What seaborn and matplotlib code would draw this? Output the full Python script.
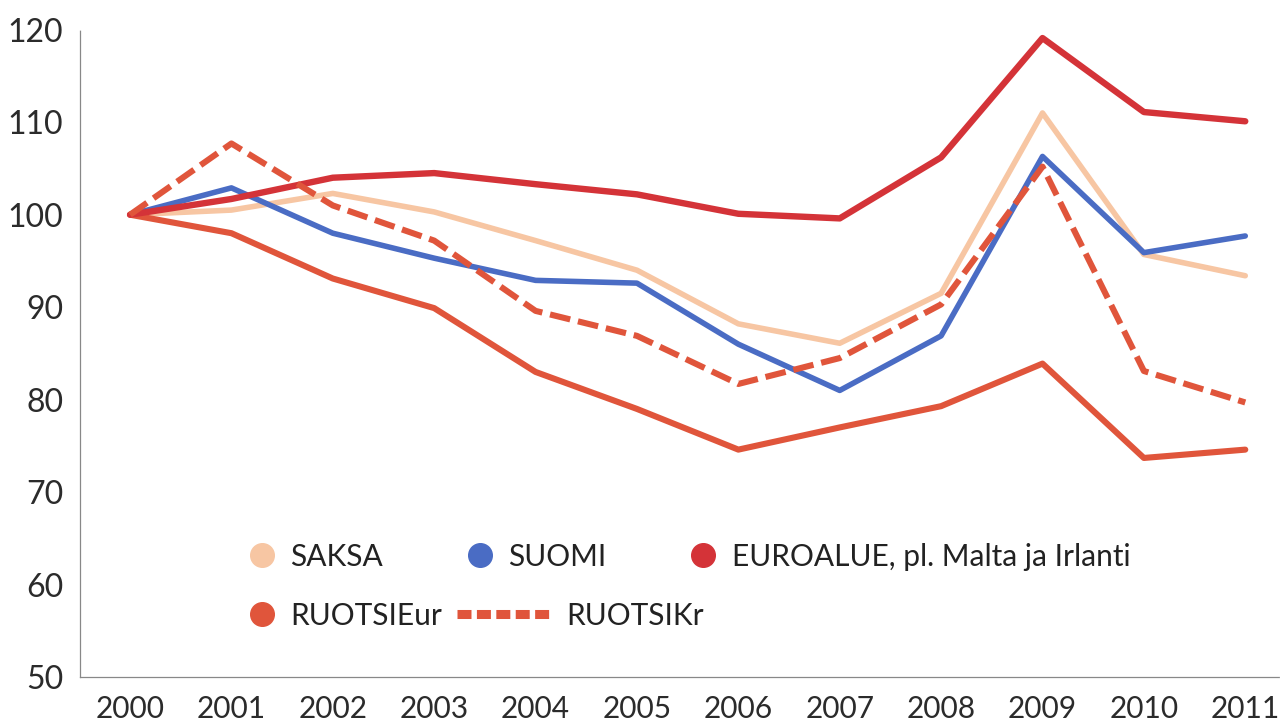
import numpy as np
import pandas as pd
import matplotlib.pyplot as plt
import seaborn as sns
from matplotlib.lines import Line2D

sns.set_style("white")
plt.rcParams['font.family'] = ['Lato', 'DejaVu Sans']

# Dati (indice, 2000 = 100)
vuodet = list(range(2000, 2012))
saksa = [100, 100.5, 102.3, 100.3, 97.2, 94.0, 88.2, 86.1, 91.5, 111.0, 95.7, 93.4]
suomi = [100, 102.9, 98.0, 95.3, 92.9, 92.6, 86.0, 81.0, 86.9, 106.3, 95.9, 97.7]
euroalue = [100, 101.7, 104.0, 104.5, 103.3, 102.2, 100.1, 99.6, 106.2, 119.1, 111.1, 110.1]
ruotsi_eur = [100, 98.0, 93.1, 89.9, 83.0, 79.0, 74.6, 77.0, 79.3, 83.9, 73.7, 74.6]
ruotsi_kr = [100, 107.7, 101.0, 97.2, 89.6, 86.9, 81.7, 84.5, 90.3, 105.2, 83.1, 79.7]

nimet = ['SAKSA', 'SUOMI', 'RUOTSIEur', 'EUROALUE, pl. Malta ja Irlanti', 'RUOTSIKr']
sarjat = [saksa, suomi, ruotsi_eur, euroalue, ruotsi_kr]
varit = {
    'SAKSA': '#f7c6a3',
    'SUOMI': '#4a6cc4',
    'EUROALUE, pl. Malta ja Irlanti': '#d43338',
    'RUOTSIEur': '#e0553b',
    'RUOTSIKr': '#e0553b',
}
leveydet = {
    'SAKSA': 4.0,
    'SUOMI': 4.0,
    'EUROALUE, pl. Malta ja Irlanti': 4.6,
    'RUOTSIEur': 4.4,
    'RUOTSIKr': 4.4,
}

rivit = []
for nimi, arvot in zip(nimet, sarjat):
    for v, a in zip(vuodet, arvot):
        rivit.append({'vuosi': v, 'arvo': a, 'sarja': nimi})
df = pd.DataFrame(rivit)

fig = plt.figure(figsize=(12.85, 7.25), dpi=100)
ax = fig.add_axes([0.0623, 0.066, 0.934, 0.893])

for nimi in nimet:
    osa = df[df['sarja'] == nimi]
    sns.lineplot(data=osa, x='vuosi', y='arvo', ax=ax, color=varit[nimi],
                 linewidth=leveydet[nimi], legend=False,
                 linestyle=(0, (3.4, 1.3)) if nimi == 'RUOTSIKr' else '-')

ax.set_xlim(1999.507, 2011.345)
ax.set_ylim(50, 120)
ax.set_xlabel('')
ax.set_ylabel('')

ax.set_yticks(range(50, 121, 10))
ax.set_xticks(vuodet)
ax.set_xticklabels([str(v) for v in vuodet])
ax.set_xticks(np.arange(2000.5, 2011, 1.0), minor=True)
ax.tick_params(axis='x', which='major', length=0, pad=13, labelsize=21.5, labelcolor='#2b2b2b')
ax.tick_params(axis='x', which='minor', length=5, width=0.8, color='#777777', direction='out')
ax.tick_params(axis='y', which='major', length=7, width=0.8, color='#777777', direction='out',
               pad=5, labelsize=23, labelcolor='#2b2b2b')

for puoli in ['top', 'right']:
    ax.spines[puoli].set_visible(False)
for puoli in ['left', 'bottom']:
    ax.spines[puoli].set_linestyle((0, (1, 1)))
    ax.spines[puoli].set_color('#888888')
    ax.spines[puoli].set_linewidth(0.9)

# Selite kahdessa rivissä
def pallo(nimi):
    return Line2D([], [], marker='o', linestyle='none', markersize=17,
                  markerfacecolor=varit[nimi], markeredgecolor=varit[nimi])

yhteiset = dict(frameon=False, fontsize=21.5, handletextpad=0.45,
                labelcolor='#222222', borderpad=0, borderaxespad=0)

nimet1 = ['SAKSA', 'SUOMI', 'EUROALUE, pl. Malta ja Irlanti']
leg1 = fig.legend([pallo(n) for n in nimet1], nimet1, loc='center left',
                  bbox_to_anchor=(0.192, 0.232), ncol=3, handlelength=1.0,
                  columnspacing=2.75, **yhteiset)
leg2 = fig.legend([pallo('RUOTSIEur')], ['RUOTSIEur'], loc='center left',
                  bbox_to_anchor=(0.192, 0.151), handlelength=1.0, **yhteiset)
viiva = Line2D([], [], color=varit['RUOTSIKr'], linewidth=6.5, linestyle=(0, (1.55, 0.6)))
leg3 = fig.legend([viiva], ['RUOTSIKr'], loc='center left',
                  bbox_to_anchor=(0.356, 0.151), handlelength=3.2, **yhteiset)

fig.savefig('out.png', dpi=100)
